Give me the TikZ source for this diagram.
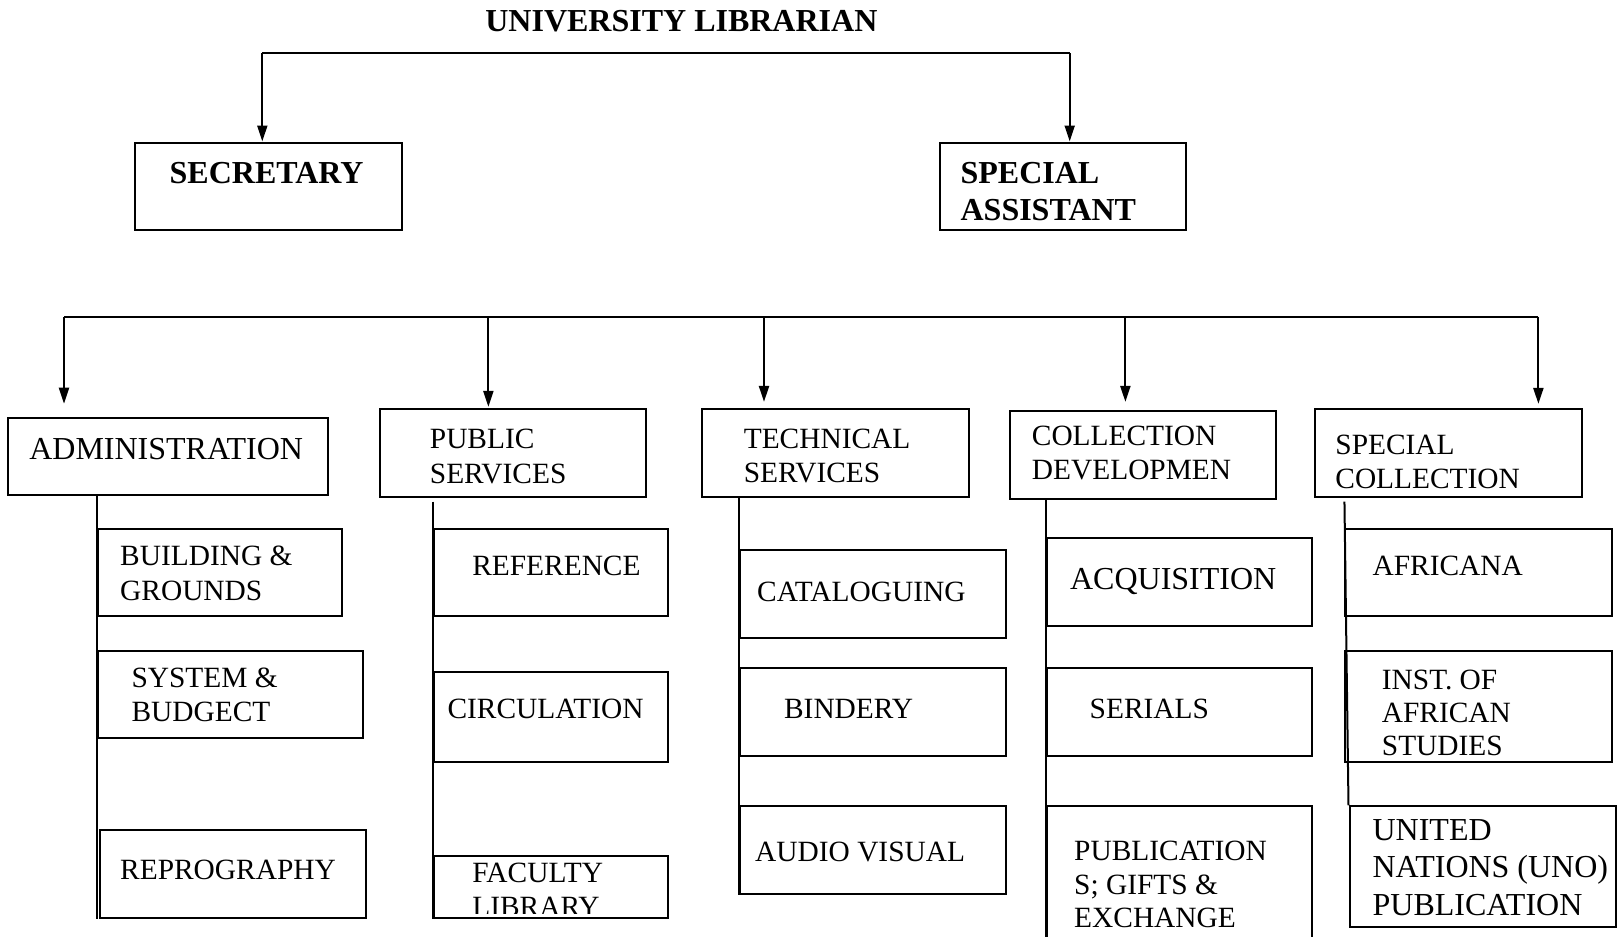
\documentclass[tikz,border=0pt]{standalone}
\usepackage{fontspec}
\setmainfont{Liberation Serif}
\usetikzlibrary{arrows.meta}
\newcommand\boxtext[2][1]{{\renewcommand\arraystretch{#1}\begin{tabular}[t]{@{}l@{}}#2\end{tabular}}}
\newcommand\orgrect[5]{\node[orgbox, minimum width={(#4-#2)*0.5pt}, minimum height={(#5-#3)*0.5pt}] (#1) at ({(#2+#4)/2},{(#3+#5)/2}) {};}
\begin{document}
\begin{tikzpicture}[x=0.5pt,y=-0.5pt,
  orgbox/.style={draw, line width=1pt, inner sep=0pt, rectangle},
  lbl/.style={inner sep=0pt, anchor=base west, font=\fontsize{14.7}{17.25}\selectfont},
  biglbl/.style={lbl, font=\fontsize{16}{17.25}\selectfont},
  blbl/.style={lbl, font=\fontsize{16}{17.25}\selectfont\bfseries},
  conn/.style={line width=1pt},
  arr/.style={line width=1pt, -{Triangle[length=8pt,width=5pt]}}]
\useasboundingbox (0,0) rectangle (1619,937);
\clip (0,0) rectangle (1619,937);

% title
\node[blbl, anchor=base] (ul) at (681.4,31.7) {UNIVERSITY LIBRARIAN};

% level 1 boxes
\orgrect{sec}{135.3}{142.5}{401.6}{230.2}
\orgrect{spa}{939.6}{142.5}{1186.4}{230.2}
\node[blbl] (sec-t) at (169.3,183.3) {\boxtext{SECRETARY}};
\node[blbl] (spa-t) at (960.2,183.3) {\boxtext[1.064]{SPECIAL\\ASSISTANT}};

\coordinate (tL) at (262.3,53.4);
\coordinate (tR) at (1069.7,53.4);
\draw[conn] (tL) -- (tR);
\draw[arr] (tL) -- (tL |- sec.north);
\draw[arr] (tR) -- (tR |- spa.north);

% level 2 boxes
\orgrect{adm}{8.3}{418.2}{328.3}{494.6}
\orgrect{pub}{380}{408.9}{646.3}{496.6}
\orgrect{tec}{702.1}{408.9}{968.5}{496.6}
\orgrect{col}{1009.8}{410.9}{1276.2}{498.7}
\orgrect{spc}{1315.4}{408.9}{1581.8}{496.6}
\node[biglbl] (adm-t) at (28.9,459) {\boxtext{ADMINISTRATION}};
\node[lbl] (pub-t) at (429.5,448.6) {\boxtext[1.0]{PUBLIC\\SERVICES}};
\node[lbl] (tec-t) at (743.4,448.6) {\boxtext[0.99]{TECHNICAL\\SERVICES}};
\node[lbl] (col-t) at (1031.5,445.5) {\boxtext[0.99]{COLLECTION\\DEVELOPMEN}};
\node[lbl] (spc-t) at (1335,454.8) {\boxtext[0.99]{SPECIAL\\COLLECTION}};

\coordinate (hL) at (64,316.7);
\coordinate (hP) at (488.4,316.7);
\coordinate (hT) at (764,316.7);
\coordinate (hC) at (1125.4,316.7);
\coordinate (hR) at (1538.4,316.7);
\draw[conn] (hL) -- (hR);
\draw[arr, shorten >=6.75pt] (hL) -- (hL |- adm.north);
\draw[arr, shorten >=0.5pt] (hP) -- (hP |- pub.north);
\draw[arr, shorten >=3pt] (hT) -- (hT |- tec.north);
\draw[arr, shorten >=4pt] (hC) -- (hC |- col.north);
\draw[arr, shorten >=2pt] (hR) -- (hR |- spc.north);

% administration children
\orgrect{bld}{98.1}{528.6}{341.8}{616.4}
\orgrect{sys}{98.1}{650.5}{363.4}{738.2}
\orgrect{rep}{100.2}{830.1}{365.5}{917.9}
\node[lbl] (bld-t) at (119.8,565.3) {\boxtext[1.017]{BUILDING \&\\GROUNDS}};
\node[lbl] (sys-t) at (131.1,687.1) {\boxtext[0.99]{SYSTEM \&\\BUDGECT}};
\node[lbl] (rep-t) at (119.8,879.2) {\boxtext{REPROGRAPHY}};
\draw[conn] (adm.south -| bld.west) -- (rep.south -| bld.west);

% public services children
\orgrect{ref}{433.7}{528.6}{668}{616.4}
\orgrect{cir}{433.7}{672.2}{668}{762}
\node[lbl] (ref-t) at (471.9,575.6) {\boxtext{REFERENCE}};
\node[lbl] (cir-t) at (447.1,718.1) {\boxtext{CIRCULATION}};
\begin{scope}
  \clip (433.7,856) rectangle (668,913.5);
  \node[lbl] (fac-t) at (471.9,882.3) {\boxtext[0.99]{FACULTY\\LIBRARY}};
\end{scope}
\orgrect{fac}{433.7}{856}{668}{917.9}
\draw[conn, shorten <=2pt] (pub.south -| ref.west) -- (fac.south west);

% technical services children
\orgrect{cat}{740.3}{550.3}{1005.7}{638.1}
\orgrect{bin}{740.3}{668}{1005.7}{755.8}
\orgrect{aud}{740.3}{806.4}{1005.7}{894.1}
\node[lbl] (cat-t) at (756.8,601.4) {\boxtext{CATALOGUING}};
\node[lbl] (bin-t) at (783.7,718.1) {\boxtext{BINDERY}};
\node[lbl] (aud-t) at (754.8,861.6) {\boxtext{AUDIO VISUAL}};
\draw[conn] (tec.south -| cat.west) -- (aud.south west);

% collection development children
\orgrect{acq}{1047}{537.9}{1312.3}{625.7}
\orgrect{ser}{1047}{668}{1312.3}{755.8}
\orgrect{pbs}{1047}{806.4}{1312.3}{960}
\node[biglbl] (acq-t) at (1069.7,589.8) {\boxtext{ACQUISITION}};
\node[lbl] (ser-t) at (1089.3,718.1) {\boxtext{SERIALS}};
\node[lbl] (pbs-t) at (1073.8,860.6) {\boxtext[0.971]{PUBLICATION\\S; GIFTS \&\\EXCHANGE}};
\draw[conn] (col.south -| acq.west) -- (pbs.south west);

% special collection children
\orgrect{afr}{1345.4}{528.6}{1611.8}{616.4}
\orgrect{ins}{1345.4}{650.5}{1611.8}{762}
\orgrect{uno}{1349.5}{806.4}{1615.9}{927.2}
\node[lbl] (afr-t) at (1372.2,575.6) {\boxtext{AFRICANA}};
\node[lbl] (ins-t) at (1381.5,689.2) {\boxtext[0.957]{INST. OF\\AFRICAN\\STUDIES}};
\node[biglbl] (uno-t) at (1372.2,840.7) {\boxtext[1.078]{UNITED\\NATIONS (UNO)\\PUBLICATION}};
\draw[conn, shorten <=2pt] (spc.south -| afr.west) -- (uno.north west);
\end{tikzpicture}
\end{document}
